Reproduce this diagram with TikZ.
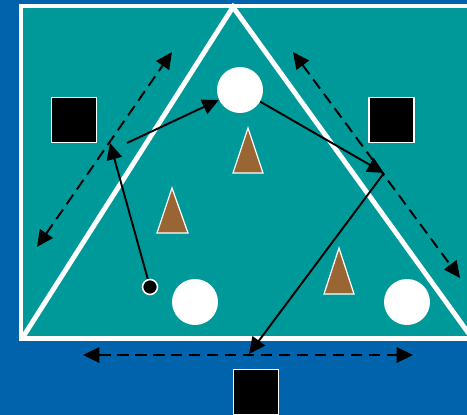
\documentclass[tikz,border=0pt]{standalone}
\usepackage{xcolor}
\usepackage{tikz}
\usetikzlibrary{arrows.meta}

\definecolor{courtblue}{RGB}{0,99,172}
\definecolor{fieldteal}{RGB}{0,153,153}
\definecolor{conebrown}{RGB}{153,102,51}

\begin{document}
\begin{tikzpicture}[
    x=0.02cm, y=-0.02cm,
    player/.style={rectangle, draw=white, line width=0.6pt, fill=black,
                   minimum size=0.9cm, inner sep=0pt},
    ball/.style={circle, fill=white, minimum size=0.92cm, inner sep=0pt},
    startdot/.style={circle, draw=white, fill=black, line width=0.9pt,
                     minimum size=0.3cm, inner sep=0pt},
    cone/.style={fill=conebrown, draw=white, line width=0.7pt},
    pass/.style={line width=1.1pt, -{Triangle[length=3.3mm, width=3.1mm]}},
    run/.style={line width=1.1pt, dash pattern=on 0.23cm off 0.13cm,
                {Triangle[length=3.3mm, width=3.1mm]}-{Triangle[length=3.3mm, width=3.1mm]}}
  ]
  \useasboundingbox (0,0) rectangle (467,415);
  \clip (0,0) rectangle (467,415);

  % pitch
  \fill[courtblue] (0,0) rectangle (467,415);
  \fill[fieldteal] (21,6) rectangle (480,338.5);
  \draw[white, line width=2.8pt] (480,6) -- (21,6) -- (21,338.5) -- (480,338.5);
  \draw[white, line width=2.8pt] (23,337) -- (233,7) -- (472,338);

  % players, balls and start
  \node[player] (pl) at (74,120) {};
  \node[player] (pr) at (391.5,120) {};
  \node[player] (pb) at (256,392) {};
  \node[ball] (btop) at (240,90) {};
  \node[ball] (bleft) at (195,302) {};
  \node[ball] (bright) at (407,302) {};
  \node[startdot] (dot) at (150,287) {};

  % cones
  \draw[cone] (248,128) -- (263,173) -- (233,173) -- cycle;
  \draw[cone] (172,188) -- (188,233) -- (157,233) -- cycle;
  \draw[cone] (339,248) -- (354,294) -- (324,294) -- cycle;

  % free ends
  \coordinate (a1) at (110,143);
  \coordinate (a2) at (127,143);
  \coordinate (turn) at (384,173);
  \coordinate (a4) at (249,354);
  \coordinate (dl1) at (37,247);
  \coordinate (dl2) at (172,52);
  \coordinate (dr1) at (293,52);
  \coordinate (dr2) at (460,278);
  \coordinate (dh1) at (83,355);
  \coordinate (dh2) at (413,355);

  % passes
  \draw[pass] (dot) -- (a1);
  \draw[pass] (a2) -- (btop);
  \draw[pass] (btop) -- (turn);
  \draw[pass] (turn) -- (a4);

  % runs
  \draw[run] (dl1) -- (dl2);
  \draw[run] (dr1) -- (dr2);
  \draw[run] (dh1) -- (dh2);
\end{tikzpicture}
\end{document}
